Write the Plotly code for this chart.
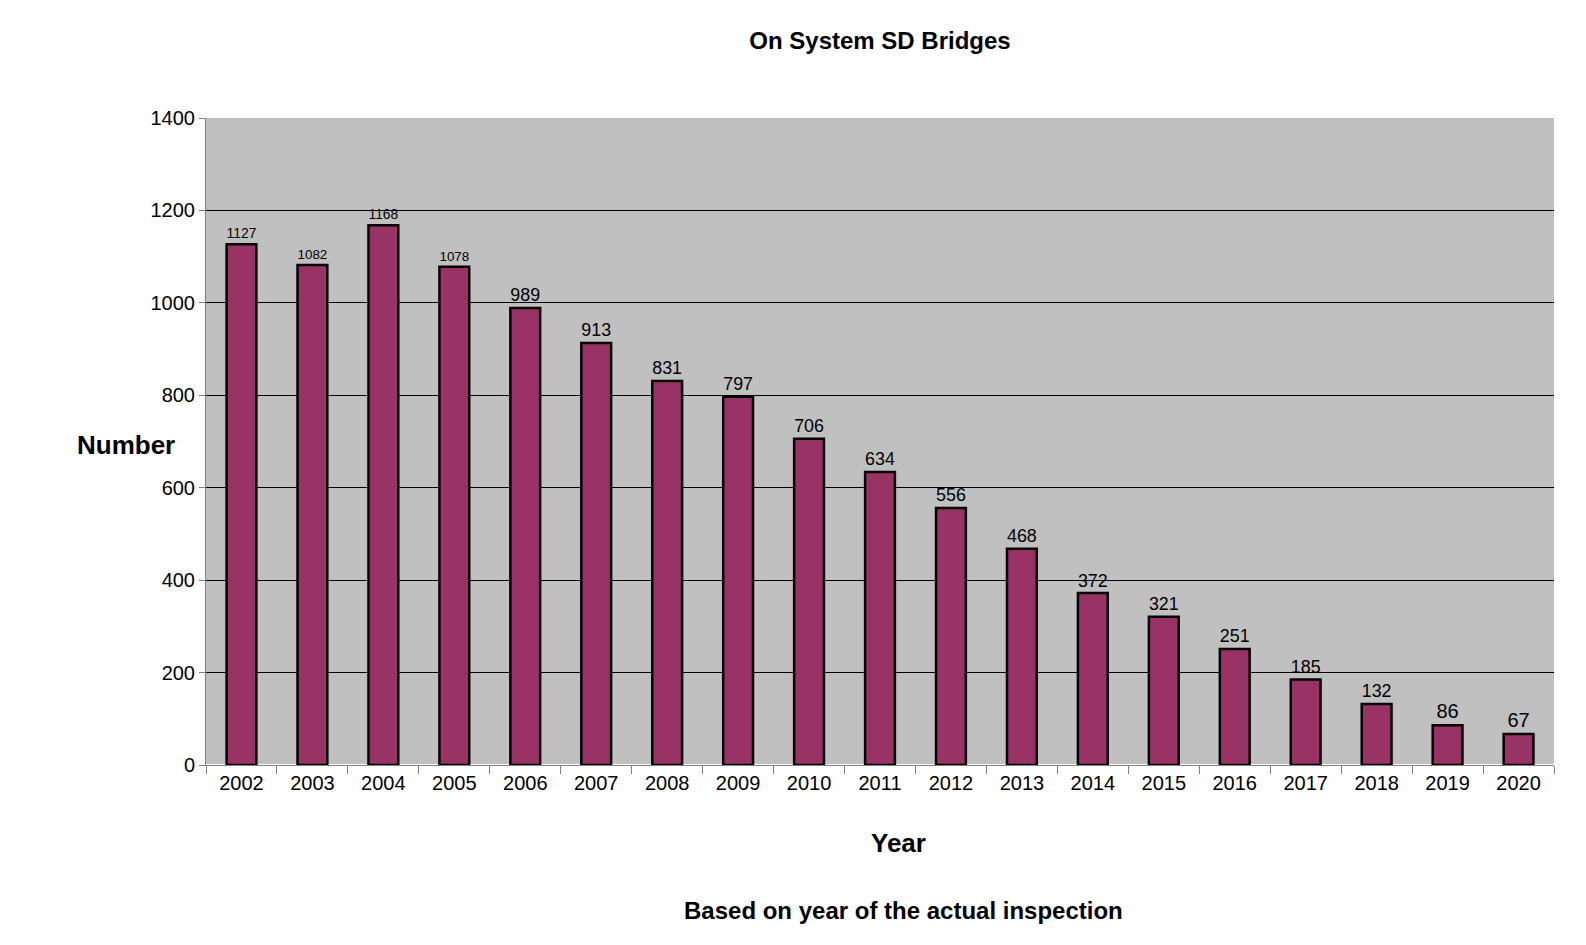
import plotly.graph_objects as go

years = [str(y) for y in range(2002, 2021)]
values = [1127, 1082, 1168, 1078, 989, 913, 831, 797, 706, 634, 556, 468, 372, 321, 251, 185, 132, 86, 67]

fig = go.Figure(go.Bar(
    x=years, y=values, text=[str(v) for v in values], textposition="outside",
    textfont=dict(size=20, color="black", family="Arial"),
    marker=dict(color="#993366", line=dict(color="black", width=2.5)),
    cliponaxis=False,
))
fig.update_layout(
    width=1586, height=945,
    margin=dict(l=198, r=40, t=110, b=188),
    paper_bgcolor="white", plot_bgcolor="#C0C0C0",
    bargap=0.58,
    font=dict(family="Arial", size=20, color="black"),
    title=dict(text="<b>On System SD Bridges</b>", x=0.5, xref="paper", y=0.965, yanchor="middle",
               font=dict(size=24)),
    showlegend=False,
)
fig.update_yaxes(range=[0, 1400], dtick=200, showgrid=True, gridcolor="black", gridwidth=1,
                 showline=True, linecolor="gray", ticks="outside", ticklen=6, tickcolor="gray",
                 tickfont=dict(size=20))
fig.update_xaxes(showline=True, linecolor="gray", ticks="outside", tickson="boundaries",
                 ticklen=8, tickcolor="gray", tickfont=dict(size=20))
fig.add_annotation(text="<b>Number</b>", x=68, y=437, xref="paper", yref="paper", showarrow=False,
                   font=dict(size=26))
fig.update_annotations(selector=dict(text="<b>Number</b>"), xref="x domain", yref="y domain",
                       x=-0.097, y=(757-437)/647)
fig.add_annotation(text="<b>Year</b>", xref="paper", yref="paper", x=(890-198)/1348, y=-(835-757)/647,
                   showarrow=False, font=dict(size=26), yanchor="middle")
fig.add_annotation(text="<b>Based on year of the actual inspection</b>", xref="paper", yref="paper",
                   x=(895-198)/1348, y=-(902-757)/647, showarrow=False, font=dict(size=24), yanchor="middle")
fig.write_html("out.html")
